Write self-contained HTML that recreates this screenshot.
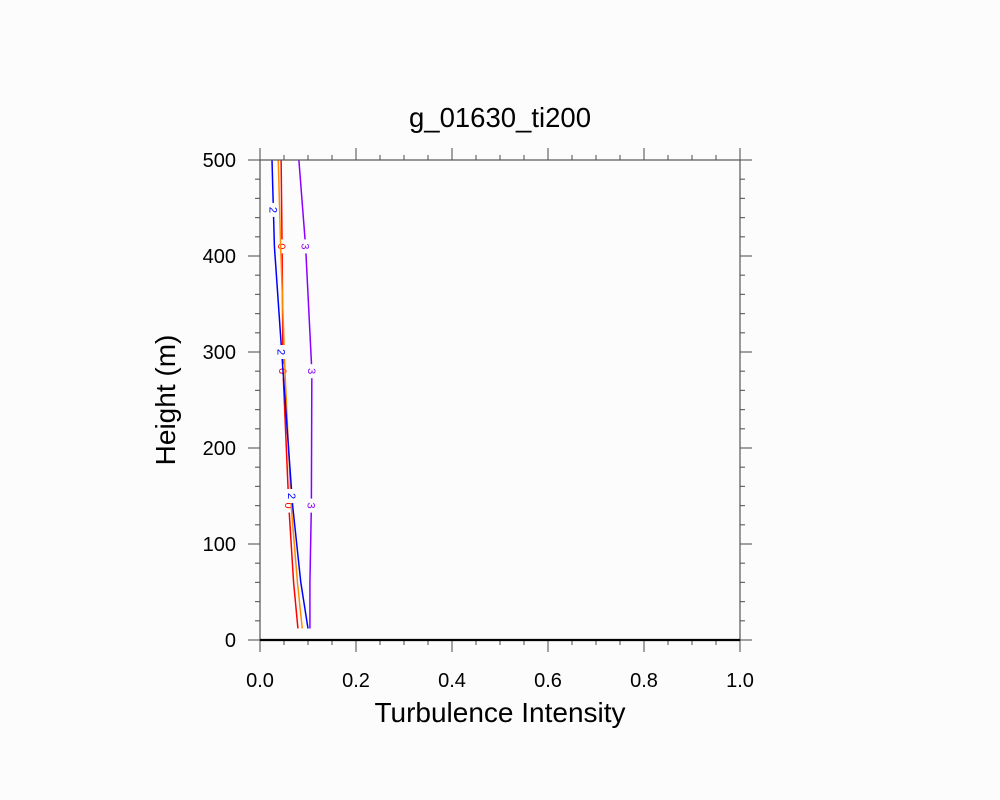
<!DOCTYPE html>
<html><head><meta charset="utf-8"><style>
body{margin:0;background:#fcfcfc;}
svg{display:block;font-family:"Liberation Sans",sans-serif;}
</style></head><body>
<svg id="chart" width="1000" height="800">
<rect width="1000" height="800" fill="#fcfcfc"/>
<text x="500" y="127" text-anchor="middle" font-size="27.5">g_01630_ti200</text>
<text x="500" y="722" text-anchor="middle" font-size="28">Turbulence Intensity</text>
<text transform="translate(175,400) rotate(-90)" text-anchor="middle" font-size="28">Height (m)</text>
<g id="ticks"></g>
<g id="series"></g>
<rect x="260" y="160" width="480" height="480" fill="none" stroke="#555" stroke-width="1.2"/>
<line x1="260" y1="640" x2="740" y2="640" stroke="#000" stroke-width="2.2"/>
</svg>
<script>
const heights=[12,60,140,280,410,500];
const blueVals=[0.100,0.085,0.068,0.048,0.030,0.025];
const redVals=[0.079,0.070,0.060,0.048,0.046,0.044];
const orangeVals=[0.088,0.078,0.065,0.052,0.043,0.038];
const purpleVals=[0.104,0.104,0.107,0.108,0.095,0.081];
const xTickLabels=["0.0","0.2","0.4","0.6","0.8","1.0"];
const yTickLabels=["0","100","200","300","400","500"];
const NS="http://www.w3.org/2000/svg";
const X=v=>260+v*480, Y=h=>640-h*0.96;
function mk(t,a,p){const e=document.createElementNS(NS,t);for(const k in a)e.setAttribute(k,a[k]);p.appendChild(e);return e;}
const tg=document.getElementById('ticks');
for(let i=0;i<=20;i++){const v=i*0.05,x=X(v),L=i%4==0?12:5;
 const t1=mk('line',{x1:x,y1:160,x2:x,y2:160-L,stroke:'#666','stroke-width':1.2},tg);
 
 const t2=mk('line',{x1:x,y1:640,x2:x,y2:640+L,stroke:'#666','stroke-width':1.2},tg);
 }
xTickLabels.forEach((s,i)=>{const e=mk('text',{x:X(i*0.2),y:687,'text-anchor':'middle','font-size':20},tg);e.textContent=s;
 });
for(let i=0;i<=25;i++){const h=i*20,y=Y(h),L=i%5==0?12:5;
 const t1=mk('line',{x1:260,y1:y,x2:260-L,y2:y,stroke:'#666','stroke-width':1.2},tg);
 
 const t2=mk('line',{x1:740,y1:y,x2:740+L,y2:y,stroke:'#666','stroke-width':1.2},tg);
 }
yTickLabels.forEach((s,i)=>{const e=mk('text',{x:236,y:Y(i*100)+7,'text-anchor':'end','font-size':20},tg);e.textContent=s;
 });
const sg=document.getElementById('series');
const series=[[redVals,'#ff0000','0','red'],[orangeVals,'#ff8c00','','orange'],[blueVals,'#0000ff','2','blue'],[purpleVals,'#8a00ff','3','purple']];
const labelH={red:[410,280,140],blue:[448,300,150],purple:[410,280,140],orange:[]};
series.forEach(([vals,c,lab,nm])=>{
 const d=heights.map((h,i)=>(i?'L':'M')+X(vals[i])+','+Y(h)).join(' ');
 const p=mk('path',{d:d,fill:'none',stroke:c,'stroke-width':1.5},sg);
 
 labelH[nm].forEach(h=>{let v=vals[0];for(let i=0;i<heights.length-1;i++){if(h>=heights[i]&&h<=heights[i+1]){const f=(h-heights[i])/(heights[i+1]-heights[i]);v=vals[i]+f*(vals[i+1]-vals[i]);}}
  const x=X(v),y=Y(h);
  const r=mk('rect',{x:x-5,y:y-7,width:10,height:14,fill:'#fcfcfc'},sg);
  
  const t=mk('text',{x:0,y:4,'text-anchor':'middle','font-size':11,fill:c,transform:`translate(${x},${y}) rotate(90)`},sg);t.textContent=lab;
  });
});
</script>
</body></html>
